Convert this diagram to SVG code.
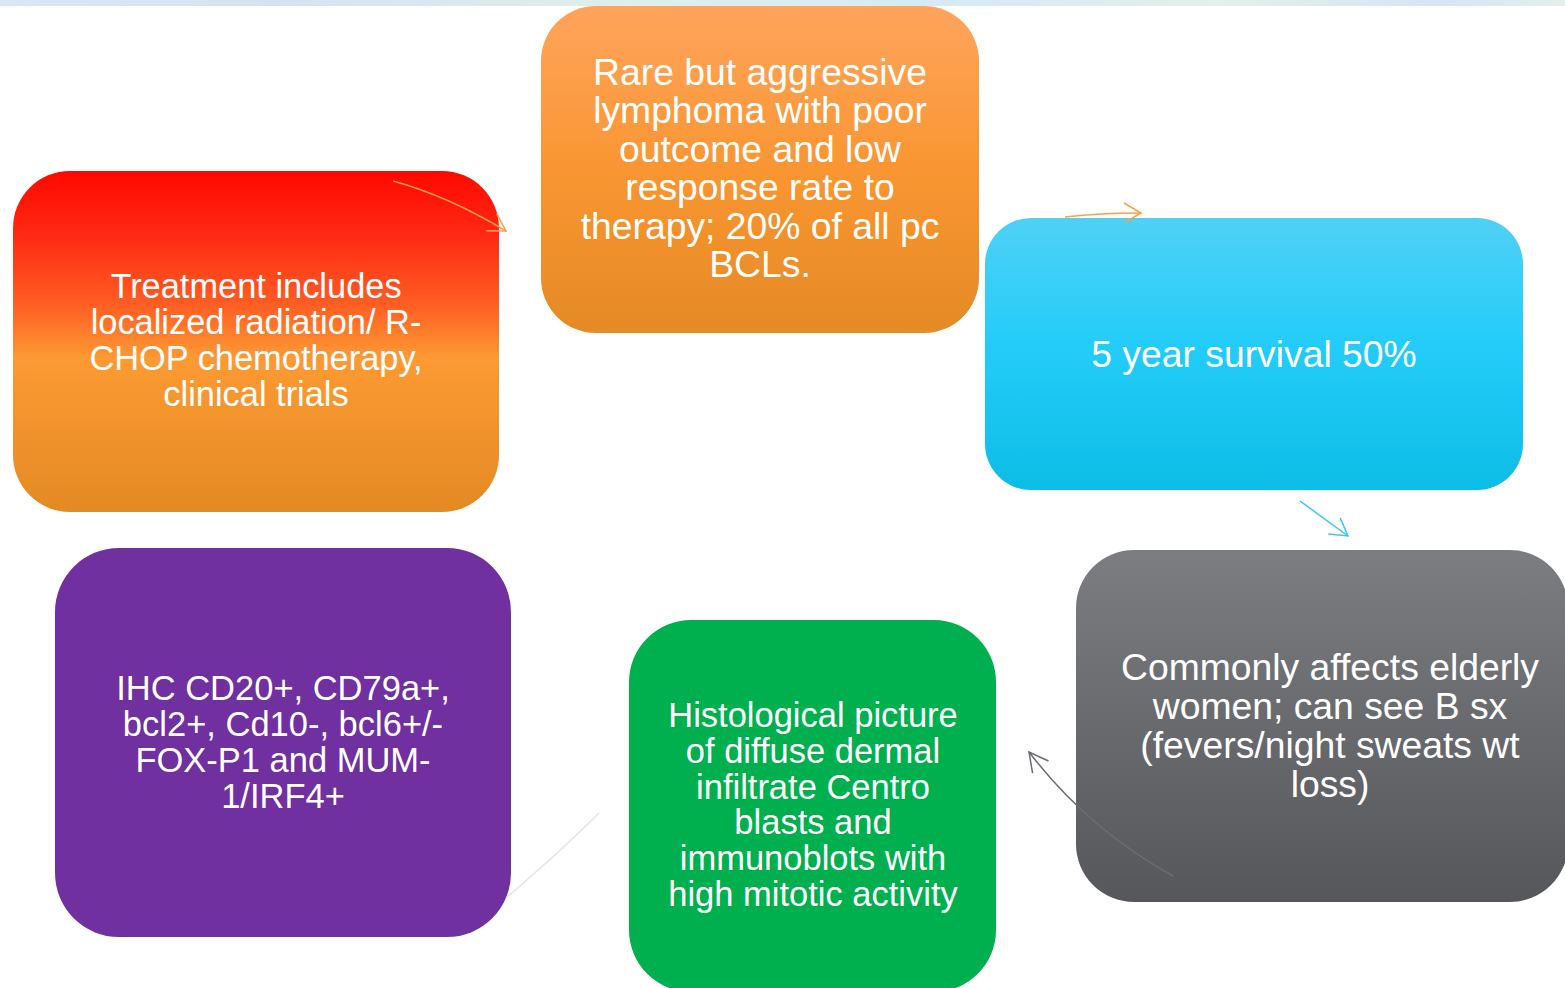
<svg xmlns="http://www.w3.org/2000/svg" width="1565" height="988" viewBox="0 0 1565 988">
  <defs>
    <linearGradient id="band" x1="0" y1="0" x2="1" y2="0">
      <stop offset="0" stop-color="#d6e8f4"/>
      <stop offset="0.18" stop-color="#d2e4f2"/>
      <stop offset="0.4" stop-color="#e0efea"/>
      <stop offset="0.62" stop-color="#d6eaf4"/>
      <stop offset="0.78" stop-color="#e2f1ea"/>
      <stop offset="0.92" stop-color="#d4e6f4"/>
      <stop offset="1" stop-color="#e0f1ec"/>
    </linearGradient>
    <linearGradient id="gOrange" x1="0" y1="0" x2="0" y2="1">
      <stop offset="0" stop-color="#ffa45c"/>
      <stop offset="0.5" stop-color="#f99632"/>
      <stop offset="1" stop-color="#e58a24"/>
    </linearGradient>
    <linearGradient id="gRed" x1="0" y1="0" x2="0" y2="1">
      <stop offset="0" stop-color="#ff0800"/>
      <stop offset="0.2" stop-color="#ff2c14"/>
      <stop offset="0.38" stop-color="#ff5a22"/>
      <stop offset="0.55" stop-color="#fc9a33"/>
      <stop offset="1" stop-color="#e48a23"/>
    </linearGradient>
    <linearGradient id="gBlue" x1="0" y1="0" x2="0" y2="1">
      <stop offset="0" stop-color="#50d0f5"/>
      <stop offset="0.45" stop-color="#24cdf9"/>
      <stop offset="1" stop-color="#0cbde6"/>
    </linearGradient>
    <linearGradient id="gGray" x1="0" y1="0" x2="0" y2="1">
      <stop offset="0" stop-color="#7c7d81"/>
      <stop offset="1" stop-color="#56575b"/>
    </linearGradient>
    <marker id="headOrange" viewBox="-20 -12 22 24" markerWidth="22" markerHeight="24" refX="0" refY="0" orient="auto" markerUnits="userSpaceOnUse">
      <path d="M-17,-10 L0,0 L-17,10" fill="none" stroke="#f9a04a" stroke-width="1.5"/>
    </marker>
    <marker id="headBlue" viewBox="-20 -12 22 24" markerWidth="22" markerHeight="24" refX="0" refY="0" orient="auto" markerUnits="userSpaceOnUse">
      <path d="M-17,-10 L0,0 L-17,10" fill="none" stroke="#3cc8ec" stroke-width="1.5"/>
    </marker>
    <marker id="headGray" viewBox="-22 -12 24 24" markerWidth="24" markerHeight="24" refX="0" refY="0" orient="auto" markerUnits="userSpaceOnUse">
      <path d="M-19,-10 L0,0 L-19,10" fill="none" stroke="#6b6c70" stroke-width="1.5"/>
    </marker>
  </defs>
  <style>
    .label { fill: #ffffff; text-anchor: middle; font-family: "Liberation Sans", Arial, sans-serif; }
    .conn { fill: none; stroke-width: 1.5; }
  </style>

  <rect x="0" y="0" width="1565" height="988" fill="#ffffff"/>
  <rect x="0" y="0" width="1565" height="6" fill="url(#band)"/>

  <g id="node-treatment">
    <rect x="13" y="171" width="486" height="341" rx="57" fill="url(#gRed)"/>
    <text class="label" font-size="34.4"><tspan x="256" y="297.5">Treatment includes</tspan><tspan x="256" y="333.5">localized radiation/ R-</tspan><tspan x="256" y="369.5">CHOP chemotherapy,</tspan><tspan x="256" y="405.5">clinical trials</tspan></text>
  </g>

  <g id="node-rare">
    <rect x="541" y="6" width="438" height="327" rx="55" fill="url(#gOrange)"/>
    <text class="label" font-size="37.3"><tspan x="760" y="84.5">Rare but aggressive</tspan><tspan x="760" y="123">lymphoma with poor</tspan><tspan x="760" y="161.5">outcome and low</tspan><tspan x="760" y="200">response rate to</tspan><tspan x="760" y="238.5">therapy; 20% of all pc</tspan><tspan x="760" y="277">BCLs.</tspan></text>
  </g>

  <g id="node-survival">
    <rect x="985" y="218" width="538" height="272" rx="46" fill="url(#gBlue)"/>
    <text class="label" font-size="37.3" x="1254" y="367">5 year survival 50%</text>
  </g>

  <g id="node-elderly">
    <rect x="1076" y="550" width="492" height="352" rx="58" fill="url(#gGray)"/>
    <text class="label" font-size="37.3"><tspan x="1330" y="680">Commonly affects elderly</tspan><tspan x="1330" y="719">women; can see B sx</tspan><tspan x="1330" y="758">(fevers/night sweats wt</tspan><tspan x="1330" y="797">loss)</tspan></text>
  </g>

  <g id="node-histology">
    <rect x="629" y="620" width="367" height="372" rx="62" fill="#00b04f"/>
    <text class="label" font-size="34.5"><tspan x="813" y="727">Histological picture</tspan><tspan x="813" y="762.8">of diffuse dermal</tspan><tspan x="813" y="798.6">infiltrate Centro</tspan><tspan x="813" y="834.4">blasts and</tspan><tspan x="813" y="870.2">immunoblots with</tspan><tspan x="813" y="906">high mitotic activity</tspan></text>
  </g>

  <g id="node-ihc">
    <rect x="55" y="548" width="456" height="389" rx="64" fill="#7030a0"/>
    <text class="label" font-size="34.5"><tspan x="283" y="699.5">IHC CD20+, CD79a+,</tspan><tspan x="283" y="735.5">bcl2+, Cd10-, bcl6+/-</tspan><tspan x="283" y="771.5">FOX-P1 and MUM-</tspan><tspan x="283" y="807.5">1/IRF4+</tspan></text>
  </g>

  <g id="connectors">
    <path class="conn" d="M393,181 Q448,196 506,231" stroke="#f9a04a" marker-end="url(#headOrange)"/>
    <path class="conn" d="M1065,217 Q1100,213 1141,213" stroke="#f9a04a" marker-end="url(#headOrange)"/>
    <path class="conn" d="M1300,501 L1348,536" stroke="#3cc8ec" marker-end="url(#headBlue)"/>
    <path class="conn" d="M1173,876 Q1088,829 1029,752" stroke="#6b6c70" marker-end="url(#headGray)"/>
    <path class="conn" d="M599,813 Q561,851 506,898" stroke="#e4e4e4"/>
  </g>
</svg>
